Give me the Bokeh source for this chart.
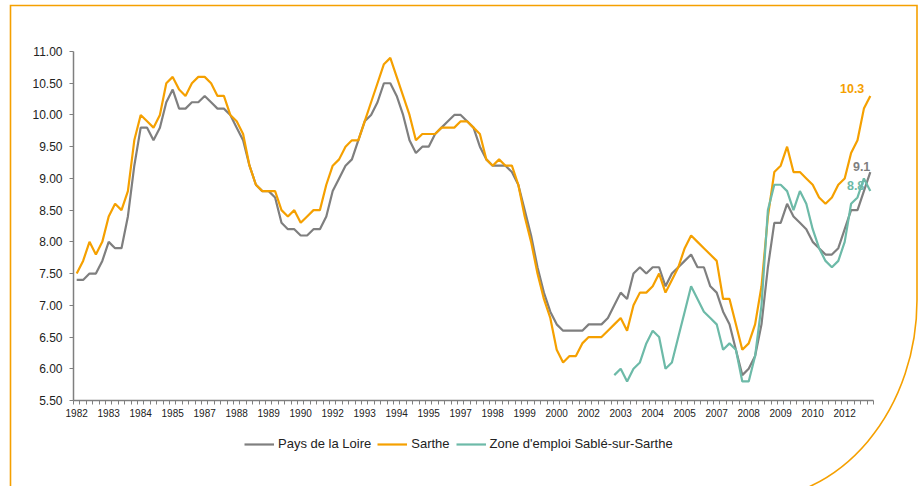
import numpy as np
from bokeh.plotting import figure
from bokeh.layouts import column
from bokeh.models import (ColumnDataSource, Range1d, FixedTicker, Legend, LegendItem,
                          NumeralTickFormatter, InlineStyleSheet)
from bokeh.embed import file_html
from bokeh.resources import INLINE
from bokeh.core.properties import value

# ---- data (quarterly unemployment rate, 1982T1 .. 2013T1) ----
pays_de_la_loire = [
    7.4, 7.4, 7.5, 7.5, 7.7, 8.0, 7.9, 7.9, 8.4, 9.2,
    9.8, 9.8, 9.6, 9.8, 10.2, 10.4, 10.1, 10.1, 10.2, 10.2,
    10.3, 10.2, 10.1, 10.1, 10.0, 9.8, 9.6, 9.2, 8.9, 8.8,
    8.8, 8.7, 8.3, 8.2, 8.2, 8.1, 8.1, 8.2, 8.2, 8.4,
    8.8, 9.0, 9.2, 9.3, 9.6, 9.9, 10.0, 10.2, 10.5, 10.5,
    10.3, 10.0, 9.6, 9.4, 9.5, 9.5, 9.7, 9.8, 9.9, 10.0,
    10.0, 9.9, 9.8, 9.5, 9.3, 9.2, 9.2, 9.2, 9.1, 8.9,
    8.5, 8.1, 7.6, 7.2, 6.9, 6.7, 6.6, 6.6, 6.6, 6.6,
    6.7, 6.7, 6.7, 6.8, 7.0, 7.2, 7.1, 7.5, 7.6, 7.5,
    7.6, 7.6, 7.3, 7.5, 7.6, 7.7, 7.8, 7.6, 7.6, 7.3,
    7.2, 6.9, 6.7, 6.3, 5.9, 6.0, 6.2, 6.7, 7.6, 8.3,
    8.3, 8.6, 8.4, 8.3, 8.2, 8.0, 7.9, 7.8, 7.8, 7.9,
    8.2, 8.5, 8.5, 8.8, 9.1,
]
sarthe = [
    7.5, 7.7, 8.0, 7.8, 8.0, 8.4, 8.6, 8.5, 8.8, 9.6,
    10.0, 9.9, 9.8, 10.0, 10.5, 10.6, 10.4, 10.3, 10.5, 10.6,
    10.6, 10.5, 10.3, 10.3, 10.0, 9.9, 9.7, 9.2, 8.9, 8.8,
    8.8, 8.8, 8.5, 8.4, 8.5, 8.3, 8.4, 8.5, 8.5, 8.9,
    9.2, 9.3, 9.5, 9.6, 9.6, 9.9, 10.2, 10.5, 10.8, 10.9,
    10.6, 10.3, 10.0, 9.6, 9.7, 9.7, 9.7, 9.8, 9.8, 9.8,
    9.9, 9.9, 9.8, 9.7, 9.3, 9.2, 9.3, 9.2, 9.2, 8.9,
    8.4, 8.0, 7.5, 7.1, 6.8, 6.3, 6.1, 6.2, 6.2, 6.4,
    6.5, 6.5, 6.5, 6.6, 6.7, 6.8, 6.6, 7.0, 7.2, 7.2,
    7.3, 7.5, 7.2, 7.4, 7.6, 7.9, 8.1, 8.0, 7.9, 7.8,
    7.7, 7.1, 7.1, 6.7, 6.3, 6.4, 6.7, 7.3, 8.4, 9.1,
    9.2, 9.5, 9.1, 9.1, 9.0, 8.9, 8.7, 8.6, 8.7, 8.9,
    9.0, 9.4, 9.6, 10.1, 10.3,
]
# Zone d'emploi Sablé-sur-Sarthe: available from 2003T1 (quarter index 84)
sable_start = 84
sable = [
    5.9, 6.0, 5.8, 6.0, 6.1, 6.4, 6.6, 6.5, 6.0, 6.1,
    6.5, 6.9, 7.3, 7.1, 6.9, 6.8, 6.7, 6.3, 6.4, 6.3,
    5.8, 5.8, 6.2, 7.0, 8.5, 8.9, 8.9, 8.8, 8.5, 8.8,
    8.6, 8.2, 7.9, 7.7, 7.6, 7.7, 8.0, 8.6, 8.7, 9.0,
    8.8,
]
x_tick_labels = ["1982", "1983", "1984", "1985", "1987", "1988", "1989", "1990",
                 "1992", "1993", "1994", "1995", "1997", "1998", "1999", "2000",
                 "2002", "2003", "2004", "2005", "2007", "2008", "2009", "2010", "2012"]
x_label_step = 5
y_ticks = [5.5, 6.0, 6.5, 7.0, 7.5, 8.0, 8.5, 9.0, 9.5, 10.0, 10.5, 11.0]
series_names = ["Pays de la Loire", "Sarthe", "Zone d'emploi Sablé-sur-Sarthe"]

GREY = "#7f7f7f"
ORANGE = "#F5A000"
TEAL = "#6DBAA8"

n = len(pays_de_la_loire)
idx = np.arange(n)
src_main = ColumnDataSource(dict(x=idx, pdl=pays_de_la_loire, sar=sarthe))
src_sable = ColumnDataSource(dict(x=np.arange(sable_start, sable_start + len(sable)), v=sable))
series_specs = [("pdl", src_main, GREY), ("sar", src_main, ORANGE), ("v", src_sable, TEAL)]

# ---------------- main chart ----------------
p = figure(width=923, height=430, frame_width=800, frame_height=349,
           output_backend="svg", toolbar_location=None,
           x_range=Range1d(-0.5, n - 0.5), y_range=Range1d(y_ticks[0], y_ticks[-1]),
           min_border_left=73, min_border_right=50, min_border_top=51, min_border_bottom=30)
p.background_fill_color = "white"
p.border_fill_alpha = 0
p.outline_line_color = None
p.grid.visible = False

for col, src, c in series_specs:
    p.line("x", col, source=src, line_color=c, line_width=2.2)

# end-of-series value labels
last = n - 1
lab_src = ColumnDataSource(dict(
    x=[last, last, sable_start + len(sable) - 1],
    y=[sarthe[-1], pays_de_la_loire[-1], sable[-1]],
    t=[f"{sarthe[-1]:.1f}", f"{pays_de_la_loire[-1]:.1f}", f"{sable[-1]:.1f}"],
    c=[ORANGE, GREY, TEAL],
    dx=[-6, 0, -6],
    dy=[-7, -6, -6],
))
p.text("x", "y", text="t", source=lab_src, text_color="c", x_offset="dx", y_offset="dy",
       text_align="right", text_baseline="alphabetic",
       text_font=value("Liberation Sans"), text_font_style="bold", text_font_size="12.5px")

# x axis
xa = p.xaxis[0]
xa.ticker = FixedTicker(ticks=[i * x_label_step for i in range(len(x_tick_labels))],
                        minor_ticks=[i - 0.5 for i in range(n + 1)])
xa.major_label_overrides = {i * x_label_step: lbl for i, lbl in enumerate(x_tick_labels)}
xa.major_tick_out = 0
xa.major_tick_in = 0
xa.minor_tick_out = 4
xa.minor_tick_in = 0
xa.minor_tick_line_color = GREY
xa.axis_line_color = GREY
xa.axis_line_width = 1.5
xa.major_label_standoff = 4
xa.major_label_text_font = "Liberation Sans"
xa.major_label_text_font_size = "10px"
xa.major_label_text_color = "#222222"

# y axis
ya = p.yaxis[0]
ya.ticker = FixedTicker(ticks=y_ticks)
ya.formatter = NumeralTickFormatter(format="0.00")
ya.major_tick_out = 4
ya.major_tick_in = 0
ya.minor_tick_line_color = None
ya.major_tick_line_color = GREY
ya.axis_line_color = GREY
ya.axis_line_width = 1.5
ya.major_label_standoff = 7
ya.major_label_text_font = "Liberation Sans"
ya.major_label_text_font_size = "12px"
ya.major_label_text_color = "#222222"

# ---------------- legend strip (same series, ranges chosen so only the legend shows) --------
pl = figure(width=923, height=56, output_backend="svg", toolbar_location=None,
            x_range=Range1d(-0.5, n - 0.5), y_range=Range1d(0, 1),
            x_axis_location=None, y_axis_location=None,
            min_border_left=0, min_border_right=0, min_border_top=0, min_border_bottom=0)
pl.background_fill_alpha = 0
pl.border_fill_alpha = 0
pl.outline_line_color = None
pl.grid.visible = False
leg_renderers = [pl.line("x", col, source=src, line_color=c, line_width=2.2)
                 for col, src, c in series_specs]
legend = Legend(items=[LegendItem(label=name, renderers=[r])
                       for name, r in zip(series_names, leg_renderers)],
                orientation="horizontal", location=(171, 35),
                label_text_font="Liberation Sans", label_text_font_size="13px",
                label_text_color="#222222", glyph_width=30, glyph_height=14,
                label_standoff=4, spacing=6, padding=4, margin=0,
                border_line_color=None, background_fill_alpha=0)
pl.add_layout(legend, "center")

layout = column(p, pl, spacing=0)

# decorative orange frame around the chart (page decoration, drawn with CSS/SVG)
frame_svg = ("<svg xmlns='http://www.w3.org/2000/svg' width='923' height='486'>"
             "<path d='M10.5 490 L10.5 5.5 L917 5.5 L917 300 A168 200 0 0 1 749 500' "
             "fill='none' stroke='%23F5A000' stroke-width='1.6'/></svg>")
css = (":host::after { content: ''; position: absolute; left: 0; top: 0; "
       "width: 923px; height: 486px; pointer-events: none; "
       "background: url(\"data:image/svg+xml;utf8," + frame_svg + "\") no-repeat; }")
layout.stylesheets = [InlineStyleSheet(css=css)]

open("out.html", "w").write(file_html(layout, INLINE))
